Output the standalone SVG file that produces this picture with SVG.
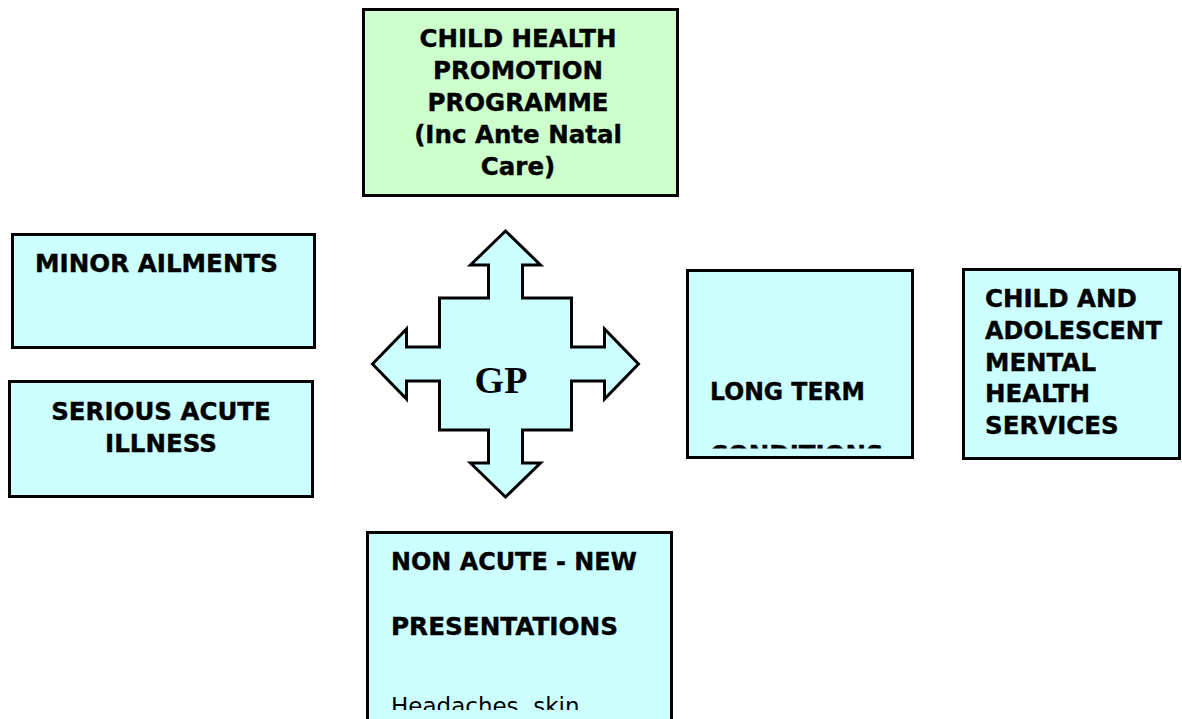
<svg xmlns="http://www.w3.org/2000/svg" width="1182" height="719" viewBox="0 0 1182 719">
<style>
.box{fill:#CCFFFF;stroke:#000;stroke-width:3}
.green{fill:#CCFFCC}
.t{font-family:"DejaVu Sans",Verdana,sans-serif;font-weight:bold;font-size:24.5px;fill:#000;stroke:#000;stroke-width:0.4}
.r{font-family:"DejaVu Sans",Verdana,sans-serif;font-size:23px;fill:#000}
.c{text-anchor:middle}
</style>
<defs>
<clipPath id="clipLT"><rect x="688" y="271" width="224" height="177.5"/></clipPath>
<clipPath id="clipNA"><rect x="368" y="533" width="303" height="177"/></clipPath>
</defs>
<rect width="1182" height="719" fill="#fff"/>
<g id="child-health">
<rect class="box green" x="363.5" y="9.5" width="314" height="186"/>
<text class="t c" x="518" y="47">CHILD HEALTH</text>
<text class="t c" x="518" y="79">PROMOTION</text>
<text class="t c" x="518" y="111">PROGRAMME</text>
<text class="t c" x="518" y="143">(Inc Ante Natal</text>
<text class="t c" x="518" y="175">Care)</text>
</g>
<g id="minor-ailments">
<rect class="box" x="12.5" y="234.5" width="302" height="113"/>
<text class="t" x="35" y="272" textLength="243" lengthAdjust="spacingAndGlyphs">MINOR AILMENTS</text>
</g>
<g id="serious-acute">
<rect class="box" x="9.5" y="381.5" width="303" height="115"/>
<text class="t c" x="161" y="420">SERIOUS ACUTE</text>
<text class="t c" x="161" y="452">ILLNESS</text>
</g>
<g id="long-term">
<rect class="box" x="687.5" y="270.5" width="225" height="187"/>
<g clip-path="url(#clipLT)">
<text class="t" x="710" y="400" textLength="155" lengthAdjust="spacingAndGlyphs">LONG TERM</text>
<text class="t" x="710" y="463">CONDITIONS</text>
</g>
</g>
<g id="camhs">
<rect class="box" x="963.5" y="269.5" width="216" height="189"/>
<text class="t" x="985" y="307">CHILD AND</text>
<text class="t" x="985" y="338.8" textLength="177" lengthAdjust="spacingAndGlyphs">ADOLESCENT</text>
<text class="t" x="985" y="370.6">MENTAL</text>
<text class="t" x="985" y="402.4">HEALTH</text>
<text class="t" x="985" y="434.2">SERVICES</text>
</g>
<g id="non-acute">
<rect class="box" x="367.5" y="532.5" width="304" height="200"/>
<g clip-path="url(#clipNA)">
<text class="t" x="391" y="570" textLength="246" lengthAdjust="spacingAndGlyphs">NON ACUTE - NEW</text>
<text class="t" x="391" y="635" textLength="227" lengthAdjust="spacingAndGlyphs">PRESENTATIONS</text>
<text class="r" x="391" y="713.5">Headaches, skin</text>
</g>
</g>
<g id="connectors">
<g id="gp">
<path class="box" d="M505.5,231 L540.5,265 L522.5,265 L522.5,298 L571.5,298 L571.5,347 L604.5,347 L604.5,329 L638.5,364 L604.5,399 L604.5,381 L571.5,381 L571.5,430 L522.5,430 L522.5,463 L540.5,463 L505.5,497 L470.5,463 L488.5,463 L488.5,430 L439.5,430 L439.5,381 L406.5,381 L406.5,399 L372.5,364 L406.5,329 L406.5,347 L439.5,347 L439.5,298 L488.5,298 L488.5,265 L470.5,265 Z"/>
<text x="501" y="393" text-anchor="middle" style="font-family:'Liberation Serif','Times New Roman',serif;font-weight:bold;font-size:38px">GP</text>
</g>
</g>
</svg>
